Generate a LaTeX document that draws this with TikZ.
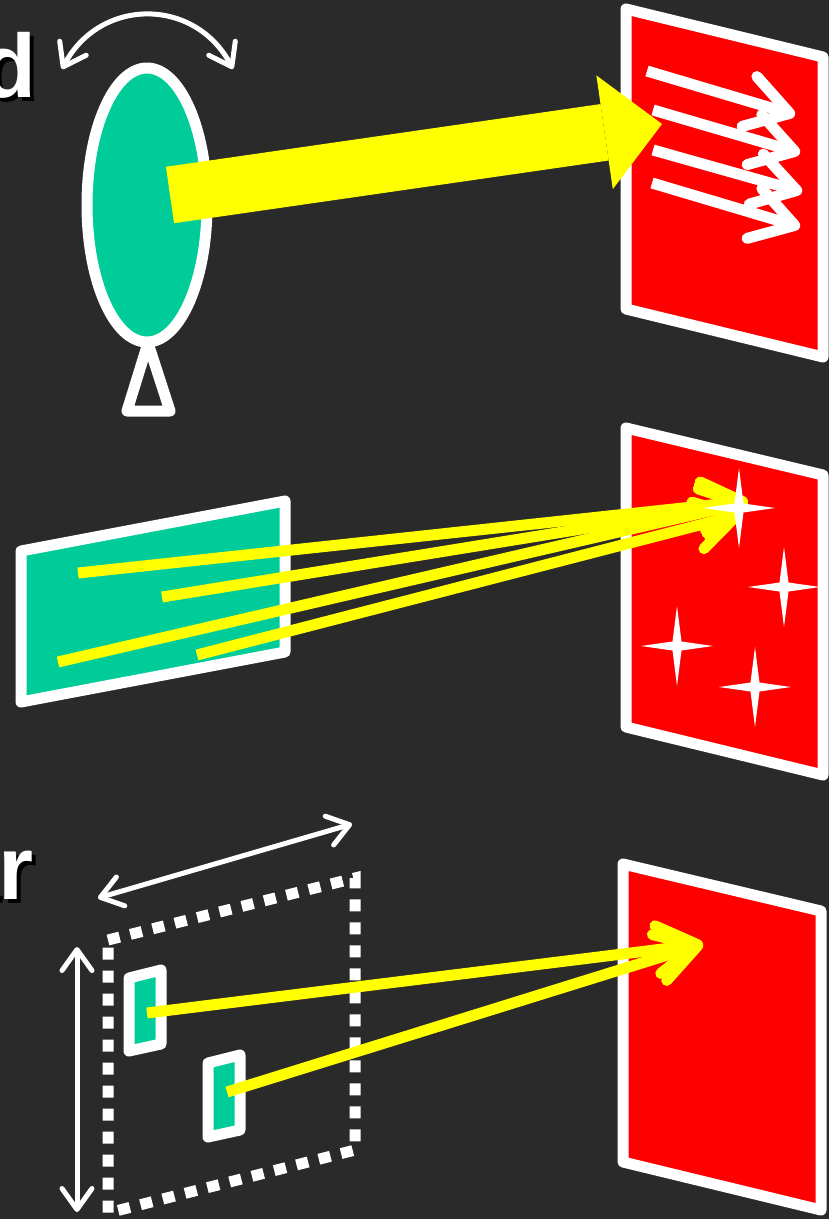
\documentclass[tikz,border=0pt]{standalone}
\usepackage{fontspec}
\setmainfont{Liberation Sans}
\usetikzlibrary{arrows.meta}

\definecolor{bgdark}{RGB}{42,42,42}
\definecolor{scrred}{RGB}{255,0,0}
\definecolor{chipgreen}{RGB}{0,204,153}
\definecolor{rayyellow}{RGB}{255,255,0}

\begin{document}
\begin{tikzpicture}[x=1pt, y=-1pt,
	screen/.style={fill=scrred, draw=white, line width=11pt, line join=round},
	chip/.style={fill=chipgreen, draw=white, line width=11pt, line join=round},
	beam/.style={draw=rayyellow, line width=11pt, -{Straight Barb[length=40pt, width=48pt, round]}},
	wave/.style={draw=white, line width=11pt, -{Straight Barb[length=42pt, width=52pt, round]}},
	span/.style={draw=white, line width=5pt, {Straight Barb[length=21pt, width=30pt, round]}-{Straight Barb[length=21pt, width=30pt, round]}},
	tag/.style={inner sep=0pt, font=\fontsize{90}{90}\selectfont\bfseries}]
	\fill[bgdark] (0,0) rectangle (829,1219);
	\useasboundingbox (0,0) rectangle (829,1219);
	\clip (0,0) rectangle (829,1219);

	\node[tag, black, anchor=base east] (tagdshade) at (41,101) {d};
	\node[tag, white, anchor=base east] (tagd) at (37,97) {d};
	\draw[white, line width=11pt, line join=round] (148,343) -- (127,411) -- (170,411) -- cycle;
	\draw[chip] (147,205) ellipse [x radius=60, y radius=137];
	\draw[span] (62,69) .. controls (100,-3) and (195,-3) .. (233,69);
	\draw[screen] (626,9) -- (823,57) -- (823,357) -- (626,309) -- cycle;
	\draw[wave] (647,71) -- (795,115);
	\draw[wave] (653,110) -- (800,153);
	\draw[wave] (653,150) -- (802,192);
	\draw[wave] (652,183) -- (800,227);
	\coordinate (dish) at (170,195);
	\coordinate (hit) at (662,124);
	\draw[rayyellow, line width=57pt, -{Triangle[length=58pt, width=115pt, line width=0pt]}] (dish) -- (hit);

	\draw[chip] (21,551) -- (285,501) -- (285,652) -- (21,702) -- cycle;
	\draw[screen] (626,428) -- (823,475) -- (823,775) -- (626,727) -- cycle;
	\draw[beam] (78,573) -- (748,501);
	\draw[beam] (162,597) -- (748,502);
	\draw[beam] (58,662) -- (748,502);
	\draw[beam] (197,655) -- (742,514);
	\foreach \sx/\sy in {739/508, 784/587, 677/646, 755/687}
		\fill[white, shift={(\sx,\sy)}] (0,-40) -- (4.5,-4.5) -- (36,0) -- (4.5,4.5) -- (0,40) -- (-4.5,4.5) -- (-36,0) -- (-4.5,-4.5) -- cycle;

	\node[tag, black, anchor=base east] (tagrshade) at (38,903) {ar};
	\node[tag, white, anchor=base east] (tagr) at (34,899) {ar};
	\draw[white, line width=11pt, dash pattern=on 12pt off 11pt] (108,940) -- (355,878) -- (355,1150) -- (108,1213) -- cycle;
	\draw[span] (98,898) -- (352,824);
	\draw[span] (77,947) -- (77,1212);
	\draw[chip] (129,978) -- (161,970) -- (161,1044) -- (129,1051) -- cycle;
	\draw[chip] (208,1063) -- (240,1055) -- (240,1130) -- (208,1137) -- cycle;
	\draw[screen] (623,864) -- (821,911) -- (821,1210) -- (623,1162) -- cycle;
	\draw[beam] (147,1013) -- (703,944);
	\draw[beam] (227,1092) -- (703,944);
\end{tikzpicture}
\end{document}
